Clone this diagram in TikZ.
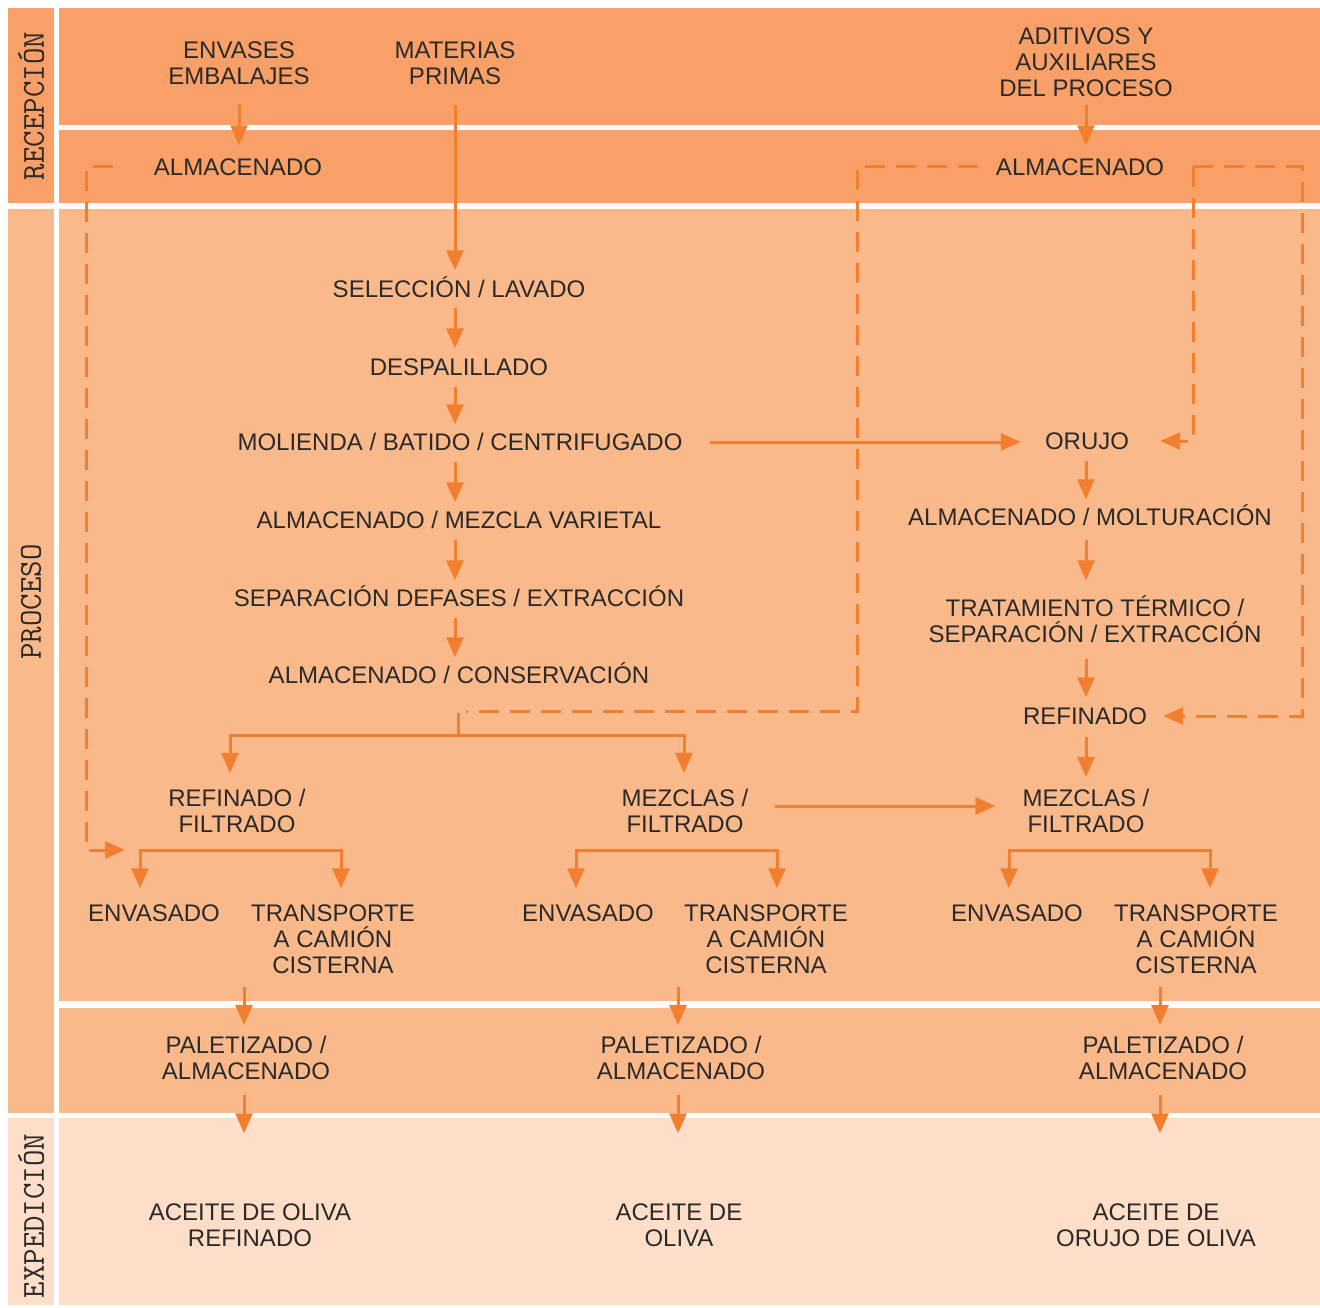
\documentclass[tikz,border=0pt]{standalone}
\usepackage{fontspec}
\setmainfont{Liberation Sans}
\usetikzlibrary{arrows.meta, calc}
\definecolor{bandA}{HTML}{F8A067}
\definecolor{bandB}{HTML}{F9B98B}
\definecolor{bandC}{HTML}{FDDFC9}
\definecolor{flowc}{HTML}{F27F30}
\definecolor{ink}{HTML}{2B2A29}
\tikzset{
  lab/.style={font=\fontsize{24}{26}\selectfont, text=ink, inner sep=0pt, text height=17pt, text depth=0pt},
  labm/.style={font=\fontsize{24}{26}\selectfont, text=ink, inner sep=0pt, align=center},
  side/.style={font=\ttfamily\fontsize{32}{32}\selectfont, text=ink, rotate=90, inner sep=0pt},
  line/.style={draw=flowc, line width=3pt},
  flow/.style={line, -{Triangle[length=20pt,width=17pt]}},
  twoway/.style={line, {Triangle[length=20pt,width=17pt]}-{Triangle[length=20pt,width=17pt]}},
  dline/.style={line, dash pattern=on 20pt off 11pt},
  dflow/.style={flow, dash pattern=on 20pt off 11pt}
}
\begin{document}
\begin{tikzpicture}[x=1pt, y=-1pt]
  \useasboundingbox (0,0) rectangle (1320,1308);
  \fill[white] (0,0) rectangle (1320,1308);
  \fill[bandA] (8,8) rectangle (54,203);
  \fill[bandA] (59,8) rectangle (1320,125);
  \fill[bandA] (59,130) rectangle (1320,203);
  \fill[bandB] (8,209) rectangle (54,1113);
  \fill[bandB] (59,209) rectangle (1320,1001);
  \fill[bandB] (59,1008) rectangle (1320,1113);
  \fill[bandC] (8,1118) rectangle (54,1305);
  \fill[bandC] (59,1118) rectangle (1320,1305);

  \node[side] (rec) at (31,106) {RECEPCIÓN};
  \node[side] (pro) at (31,602) {PROCESO};
  \node[side] (exp) at (31,1216) {EXPEDICIÓN};

  \node[labm] (env) at (239,63) {ENVASES\\EMBALAJES};
  \node[labm] (mat) at (455,63) {MATERIAS\\PRIMAS};
  \node[labm] (adi) at (1086,62) {ADITIVOS Y\\AUXILIARES\\DEL PROCESO};
  \node[lab] (alm1) at (238,167) {ALMACENADO};
  \node[lab] (alm2) at (1080,167) {ALMACENADO};

  \node[lab] (sel) at (459,289) {SELECCIÓN / LAVADO};
  \node[lab] (des) at (459,367) {DESPALILLADO};
  \node[lab] (mol) at (460,442) {MOLIENDA / BATIDO / CENTRIFUGADO};
  \node[lab] (mez) at (459,520) {ALMACENADO / MEZCLA VARIETAL};
  \node[lab] (sep) at (459,598) {SEPARACIÓN DEFASES / EXTRACCIÓN};
  \node[lab] (con) at (459,675) {ALMACENADO / CONSERVACIÓN};

  \node[lab] (oru) at (1087,441) {ORUJO};
  \node[lab] (mol2) at (1090,517) {ALMACENADO / MOLTURACIÓN};
  \node[labm] (tra) at (1095,619) {TRATAMIENTO TÉRMICO /\\SEPARACIÓN / EXTRACCIÓN};
  \node[lab] (ref) at (1085,716) {REFINADO};

  \node[labm] (fil1) at (237,811) {REFINADO /\\FILTRADO};
  \node[labm] (fil2) at (685,811) {MEZCLAS /\\FILTRADO};
  \node[labm] (fil3) at (1086,811) {MEZCLAS /\\FILTRADO};

  \node[lab] (en1) at (154,913) {ENVASADO};
  \node[labm] (tc1) at (333,939) {TRANSPORTE\\A CAMIÓN\\CISTERNA};
  \node[lab] (en2) at (588,913) {ENVASADO};
  \node[labm] (tc2) at (766,939) {TRANSPORTE\\A CAMIÓN\\CISTERNA};
  \node[lab] (en3) at (1017,913) {ENVASADO};
  \node[labm] (tc3) at (1196,939) {TRANSPORTE\\A CAMIÓN\\CISTERNA};

  \node[labm] (pal1) at (246,1058) {PALETIZADO /\\ALMACENADO};
  \node[labm] (pal2) at (681,1058) {PALETIZADO /\\ALMACENADO};
  \node[labm] (pal3) at (1163,1058) {PALETIZADO /\\ALMACENADO};
  \node[labm] (ace1) at (250,1225) {ACEITE DE OLIVA\\REFINADO};
  \node[labm] (ace2) at (679,1225) {ACEITE DE\\OLIVA};
  \node[labm] (ace3) at (1156,1225) {ACEITE DE\\ORUJO DE OLIVA};

  \coordinate (dl1) at (86,167);
  \coordinate (dl2) at (86,850);
  \coordinate (dr1) at (857,167);
  \coordinate (dr2) at (857,711);
  \coordinate (stem) at (458,711);
  \coordinate (dc1) at (1193,167);
  \coordinate (dc2) at (1302,167);
  \coordinate (fl) at (230,735);
  \coordinate (fr) at (684,735);
  \coordinate (k1l) at (140,850);
  \coordinate (k1r) at (341,850);
  \coordinate (k2l) at (576,850);
  \coordinate (k2r) at (777,850);
  \coordinate (k3l) at (1009,850);
  \coordinate (k3r) at (1210,850);

  \draw[flow, shorten <=19pt, shorten >=13pt] (env.south) -- (env.south |- alm1.north);
  \draw[flow, shorten <=8pt, shorten >=13pt] (adi.south) -- (adi.south |- alm2.north);
  \draw[flow, shorten <=20pt, shorten >=10pt] (mat.south) -- (mat.south |- sel.north);
  \draw[flow, shorten <=10pt, shorten >=10pt] (sel.south -| mat.south) -- (des.north -| mat.south);
  \draw[flow, shorten <=11pt, shorten >=9pt] (des.south -| mat.south) -- (mol.north -| mat.south);
  \draw[flow, shorten <=11pt, shorten >=9pt] (mol.south -| mat.south) -- (mez.north -| mat.south);
  \draw[flow, shorten <=11pt, shorten >=9pt] (mez.south -| mat.south) -- (sep.north -| mat.south);
  \draw[flow, shorten <=11pt, shorten >=9pt] (sep.south -| mat.south) -- (con.north -| mat.south);
  \draw[flow, shorten <=27pt, shorten >=24pt] (mol.east) -- (mol.east -| oru.west);

  \draw[flow, shorten <=11pt, shorten >=9pt] (oru.south -| fil3.north) -- (mol2.north -| fil3.north);
  \draw[flow, shorten <=14pt, shorten >=15pt] (mol2.south -| fil3.north) -- (tra.north -| fil3.north);
  \draw[flow, shorten <=16pt, shorten >=10pt] (tra.south -| fil3.north) -- (ref.north -| fil3.north);
  \draw[flow, shorten <=12pt, shorten >=12pt] (ref.south -| fil3.north) -- (fil3.north);

  \draw[line, shorten <=29pt] (con.south -| stem) -- (fl -| stem);
  \draw[twoway, shorten <=16pt, shorten >=16pt] (fil1.north -| fl) -- (fl) -- (fr) -- (fil2.north -| fr);
  \draw[flow, shorten <=26pt, shorten >=27pt] ([yshift=5pt]fil2.east) -- ([yshift=5pt]fil2.east -| fil3.west);

  \draw[twoway, shorten <=16pt, shorten >=16pt] (en1.north -| k1l) -- (k1l) -- (k1r) -- (tc1.north -| k1r);
  \draw[twoway, shorten <=16pt, shorten >=16pt] (en2.north -| k2l) -- (k2l) -- (k2r) -- (tc2.north -| k2r);
  \draw[twoway, shorten <=16pt, shorten >=16pt] (en3.north -| k3l) -- (k3l) -- (k3r) -- (tc3.north -| k3r);

  \draw[flow, shorten <=13pt, shorten >=11pt] ([xshift=-2pt]pal1.north |- tc1.south) -- ([xshift=-2pt]pal1.north);
  \draw[flow, shorten <=13pt, shorten >=11pt] ([xshift=-3pt]pal2.north |- tc2.south) -- ([xshift=-3pt]pal2.north);
  \draw[flow, shorten <=13pt, shorten >=11pt] ([xshift=-3pt]pal3.north |- tc3.south) -- ([xshift=-3pt]pal3.north);
  \draw[flow, shorten <=15pt, shorten >=70pt] ([xshift=-2pt]pal1.south) -- ([xshift=-2pt]pal1.south |- ace1.north);
  \draw[flow, shorten <=15pt, shorten >=70pt] ([xshift=-3pt]pal2.south) -- ([xshift=-3pt]pal2.south |- ace2.north);
  \draw[flow, shorten <=15pt, shorten >=70pt] ([xshift=-3pt]pal3.south) -- ([xshift=-3pt]pal3.south |- ace3.north);

  \draw[dflow, shorten <=41pt, shorten >=15pt] (alm1.west) -- (dl1) -- (dl2) -- (k1l);
  \draw[dline, shorten <=18pt, shorten >=8pt] (alm2.west) -- (dr1) -- (dr2) -- (stem);
  \draw[dflow, shorten >=31pt] (dc1) -- (oru.east -| dc1) -- (oru.east);
  \draw[dflow, shorten >=16pt] (dc1) -- (dc2) -- (ref.east -| dc2) -- (ref.east);
\end{tikzpicture}
\end{document}
